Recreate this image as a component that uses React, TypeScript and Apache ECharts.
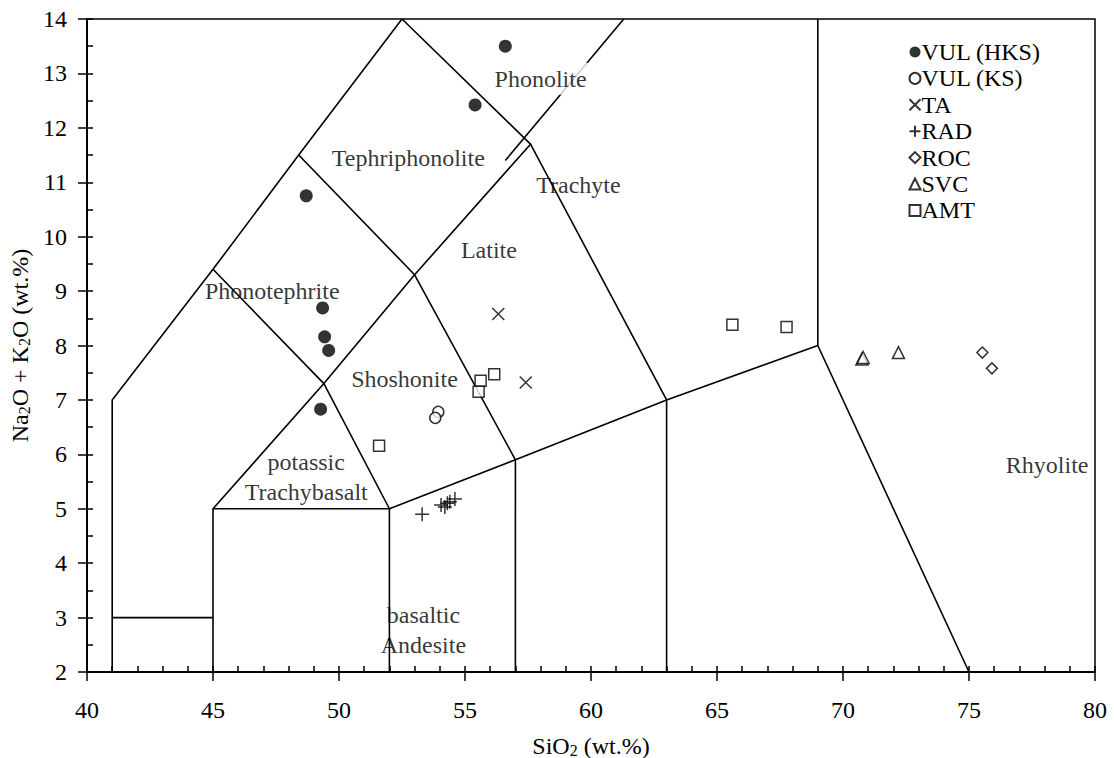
import React, { useEffect, useRef } from "react";
import * as echarts from "echarts";

const FONT = "'Liberation Serif', 'Times New Roman', serif";

// ---- sample data (SiO2, Na2O+K2O) ----
const vulHKS = [[56.6, 13.5], [55.4, 12.42], [48.7, 10.75], [49.35, 8.69], [49.43, 8.16], [49.59, 7.91], [49.27, 6.83]];
const vulKS = [[53.94, 6.78], [53.82, 6.67]];
const ta = [[56.32, 8.58], [57.41, 7.32]];
const rad = [[53.3, 4.9], [54.05, 5.07], [54.2, 5.03], [54.3, 5.1], [54.4, 5.13], [54.6, 5.18]];
const roc = [[75.53, 7.87], [75.91, 7.58]];
const svc = [[70.75, 7.75], [70.8, 7.78], [72.2, 7.87]];
const amt = [[51.59, 6.16], [55.62, 7.35], [56.16, 7.47], [55.54, 7.15], [65.61, 8.38], [67.76, 8.34]];

// ---- TAS field boundaries ----
const bnd1 = [[41, 2], [41, 7], [45, 9.4], [48.4, 11.5], [52.5, 14]];
const bnd2 = [[45, 2], [45, 5], [49.4, 7.3], [53, 9.3], [57.6, 11.7]];
const bnd3 = [[41, 3], [45, 3]];
const bnd4 = [[45, 5], [52, 5], [57, 5.9], [63, 7], [69, 8]];
const bnd5 = [[52, 2], [52, 5]];
const bnd6 = [[57, 2], [57, 5.9]];
const bnd7 = [[63, 2], [63, 7]];
const bnd8 = [[45, 9.4], [49.4, 7.3], [52, 5]];
const bnd9 = [[48.4, 11.5], [53, 9.3], [57, 5.9]];
const bnd10 = [[52.5, 14], [57.6, 11.7], [63, 7]];
const bnd11 = [[69, 14], [69, 8], [75, 2]];
const bnd12 = [[61.3, 14], [56.6, 11.4]];
const boundaries = [bnd1, bnd2, bnd3, bnd4, bnd5, bnd6, bnd7, bnd8, bnd9, bnd10, bnd11, bnd12];

// ---- field names ----
const fieldNames = ["Phonolite", "Tephriphonolite", "Trachyte", "Latite", "Phonotephrite", "Shoshonite", "potassic", "Trachybasalt", "basaltic", "Andesite", "Rhyolite"];
const fieldPos = [[58.0, 12.9], [52.75, 11.45], [59.5, 10.95], [55.95, 9.75], [47.35, 9.0], [52.6, 7.38], [48.7, 5.85], [48.7, 5.3], [53.35, 3.05], [53.35, 2.5], [78.1, 5.8]];
const maskedFields = ["Phonolite", "Tephriphonolite"];

const legendNames = ["VUL (HKS)", "VUL (KS)", "TA", "RAD", "ROC", "SVC", "AMT"];

const X_PATH = "path://M0,0L10,10M10,0L0,10";
const PLUS_PATH = "path://M5,0L5,10M0,5L10,5";

export default function App() {
  const ref = useRef<HTMLDivElement>(null);
  useEffect(() => {
    if (!ref.current) return;
    const chart = echarts.init(ref.current, null, { renderer: "svg" });
    const lineSeries = boundaries.map((b) => ({
      type: "line",
      data: b,
      symbol: "none",
      silent: true,
      z: 2,
      lineStyle: { color: "#000", width: 1.6 },
      xAxisIndex: 0,
      yAxisIndex: 0,
    }));
    const labelSeries = {
      type: "scatter",
      symbolSize: 0,
      silent: true,
      z: 5,
      data: fieldNames.map((n, i) => ({
        name: n,
        value: fieldPos[i],
        label: maskedFields.includes(n) ? { backgroundColor: "#fff", padding: [4, 2] } : {},
      })),
      label: {
        show: true,
        position: "inside",
        formatter: "{b}",
        color: "#000",
        fontSize: 24,
        fontFamily: FONT,
      },
    };
    const open = { color: "#fff", borderColor: "#000", borderWidth: 1.5 };
    const pts = (name: string, data: number[][], symbol: string, size: number, itemStyle: any) => ({
      name,
      type: "scatter",
      data,
      symbol,
      symbolSize: size,
      itemStyle,
      z: 10,
      silent: true,
    });
    const scatterSeries = [
      pts(legendNames[0], vulHKS, "circle", 13, { color: "#000" }),
      pts(legendNames[1], vulKS, "circle", 11, open),
      pts(legendNames[2], ta, X_PATH, 12, { color: "none", borderColor: "#000", borderWidth: 1.5 }),
      pts(legendNames[3], rad, PLUS_PATH, 14, { color: "none", borderColor: "#000", borderWidth: 1.5 }),
      pts(legendNames[4], roc, "diamond", [11, 11] as any, open),
      pts(legendNames[5], svc, "triangle", 12, open),
      pts(legendNames[6], amt, "rect", 11, open),
    ];
    const axisName = { fontSize: 24, fontFamily: FONT, color: "#000" };
    const sub = { fontSize: 16, fontFamily: FONT, color: "#000", padding: [8, 0, 0, 0] };
    chart.setOption({
      animation: false,
      backgroundColor: "#fff",
      textStyle: { fontFamily: FONT },
      grid: {
        left: 87, right: 19, top: 19, bottom: 86,
        containLabel: false, outerBoundsMode: "none",
        show: true, borderColor: "#000", borderWidth: 1.5,
      },
      legend: {
        orient: "vertical",
        left: 907,
        top: 40,
        padding: 0,
        itemGap: 2.4,
        itemWidth: 11,
        itemHeight: 11,
        selectedMode: false,
        data: legendNames,
        textStyle: { fontSize: 24, fontFamily: FONT, color: "#000", lineHeight: 24, padding: [0, 0, 0, -4] },
      },
      xAxis: [
        {
          type: "value",
          min: 40,
          max: 80,
          interval: 5,
          position: "bottom",
          name: "{n|SiO}{s|2}{n| (wt.%)}",
          nameLocation: "middle",
          nameGap: 62,
          nameTextStyle: { rich: { n: axisName, s: sub } },
          axisLine: { show: true, lineStyle: { color: "#000", width: 2 } },
          axisTick: { show: true, inside: false, length: 9, lineStyle: { color: "#000", width: 1.5 } },
          axisLabel: { show: true, margin: 26, fontSize: 24, fontFamily: FONT, color: "#000" },
          splitLine: { show: false },
        },
        {
          type: "value",
          min: 40,
          max: 80,
          interval: 1,
          position: "bottom",
          axisLine: { show: false },
          axisTick: { show: true, inside: true, length: 6, lineStyle: { color: "#000", width: 1.5 } },
          axisLabel: { show: false },
          splitLine: { show: false },
        },
      ],
      yAxis: [
        {
          type: "value",
          min: 2,
          max: 14,
          interval: 1,
          position: "left",
          name: "{n|Na}{s|2}{n|O + K}{s|2}{n|O (wt.%)}",
          nameLocation: "middle",
          nameGap: 52,
          nameTextStyle: { rich: { n: axisName, s: sub } },
          axisLine: { show: true, lineStyle: { color: "#000", width: 2 } },
          axisTick: { show: true, inside: false, length: 9, lineStyle: { color: "#000", width: 1.5 } },
          axisLabel: { show: true, margin: 20, fontSize: 24, fontFamily: FONT, color: "#000" },
          splitLine: { show: false },
        },
        {
          type: "value",
          min: 2,
          max: 14,
          interval: 0.5,
          position: "left",
          axisLine: { show: false },
          axisTick: { show: true, inside: true, length: 6, lineStyle: { color: "#000", width: 1.5 } },
          axisLabel: { show: false },
          splitLine: { show: false },
        },
      ],
      series: [...lineSeries, labelSeries, ...scatterSeries],
    });
    return () => chart.dispose();
  }, []);
  return (
    <div
      ref={ref}
      style={{ position: "fixed", left: 0, top: 0, width: 1114, height: 758, background: "#fff" }}
    />
  );
}
